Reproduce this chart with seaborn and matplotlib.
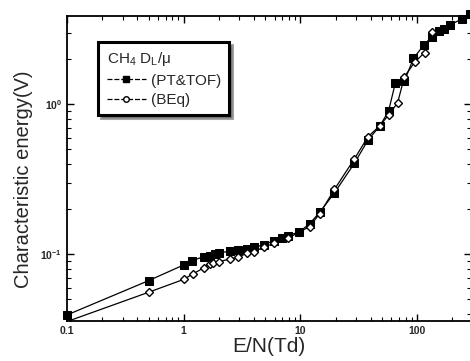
import matplotlib
matplotlib.use("Agg")
import matplotlib.pyplot as plt
import matplotlib.ticker as mticker
from matplotlib.lines import Line2D
import seaborn as sns
import pandas as pd

# PT&TOF (filled squares)
pt_x = [0.1, 0.5, 1.0, 1.18, 1.48, 1.67, 1.84, 2.0, 2.5, 2.9, 3.5, 4.0, 4.9, 5.9,
        6.95, 7.8, 9.8, 12, 14.6, 19.6, 29, 38, 48, 57, 65, 78, 93, 114, 134, 153,
        169, 193, 243, 282]
pt_y = [0.0394, 0.0667, 0.0849, 0.0906, 0.0964, 0.098, 0.100, 0.102, 0.105, 0.107,
        0.109, 0.111, 0.116, 0.123, 0.128, 0.133, 0.141, 0.160, 0.190, 0.257, 0.404,
        0.578, 0.717, 0.902, 1.38, 1.43, 2.02, 2.48, 2.82, 3.1, 3.2, 3.4, 3.7, 4.0]

# BEq (open diamonds)
be_x = [0.1, 0.5, 1.0, 1.2, 1.5, 1.67, 1.8, 2.0, 2.5, 2.9, 3.5, 4.0, 4.9, 5.9, 7.8,
        12, 14.6, 19.6, 29, 38, 48, 57, 68, 78, 96, 116, 135]
be_y = [0.0356, 0.0558, 0.068, 0.074, 0.0815, 0.0862, 0.088, 0.0893, 0.093, 0.0955,
        0.1016, 0.104, 0.112, 0.118, 0.128, 0.153, 0.186, 0.271, 0.432, 0.608, 0.72,
        0.849, 1.02, 1.53, 1.92, 2.21, 3.03]

xticks = [0.1, 1, 10, 100]
xtick_labels = ["0.1", "1", "10", "100"]

sns.set_theme(style="ticks")
plt.rcParams["font.family"] = ["Liberation Sans", "DejaVu Sans"]
plt.rcParams["mathtext.fontset"] = "custom"
plt.rcParams["mathtext.rm"] = "Liberation Sans"
plt.rcParams["mathtext.it"] = "Liberation Sans:italic"
plt.rcParams["mathtext.bf"] = "Liberation Sans:bold"

fig = plt.figure(figsize=(4.70, 3.61), dpi=100)
ax = fig.add_axes([0.1426, 0.1108, 0.8596, 0.845])

df_pt = pd.DataFrame({"x": pt_x, "y": pt_y})
df_be = pd.DataFrame({"x": be_x, "y": be_y})

sns.lineplot(data=df_pt, x="x", y="y", ax=ax, sort=False, estimator=None,
             color="black", lw=0.9, marker="s", markersize=5.5,
             markerfacecolor="black", markeredgecolor="black", clip_on=False)
sns.lineplot(data=df_be, x="x", y="y", ax=ax, sort=False, estimator=None,
             color="black", lw=0.9, marker="D", markersize=4.5,
             markerfacecolor="white", markeredgecolor="black", markeredgewidth=1.0,
             clip_on=True)

ax.set_xscale("log")
ax.set_yscale("log")
ax.set_xlim(0.1, 290)
ax.set_ylim(0.0359, 3.88)

ax.set_xticks(xticks)
ax.set_xticklabels(xtick_labels, fontsize=7.5, fontweight="bold")
ax.xaxis.set_minor_locator(mticker.LogLocator(base=10, subs=range(2, 10)))
ax.yaxis.set_minor_locator(mticker.LogLocator(base=10, subs=range(2, 10)))
ax.xaxis.set_minor_formatter(mticker.NullFormatter())
ax.yaxis.set_minor_formatter(mticker.NullFormatter())
ax.yaxis.set_major_locator(mticker.FixedLocator([0.1, 1.0]))
ax.set_yticklabels([r"$\mathbf{10^{-1}}$", r"$\mathbf{10^{0}}$"], fontsize=7.5)

ax.tick_params(which="both", direction="in", top=True, right=True, color="black")
ax.tick_params(which="major", length=5, width=1.0)
ax.tick_params(which="minor", length=3, width=0.8)
for s in ax.spines.values():
    s.set_linewidth(1.3)
    s.set_color("black")

ax.set_xlabel("E/N(Td)", fontsize=15, labelpad=1)
ax.set_ylabel("Characteristic energy(V)", fontsize=14.5)
ax.yaxis.set_label_coords(-0.085, 0.465)

handles = [
    Line2D([], [], color="black", lw=0.9, ls=(0, (4, 1.5)), marker="s", markersize=5,
           markerfacecolor="black"),
    Line2D([], [], color="black", lw=0.9, ls=(0, (4, 1.5)), marker="o", markersize=4,
           markerfacecolor="white"),
]
leg = ax.legend(handles, ["(PT&TOF)", "(BEq)"], title="CH$_4$ D$_\\mathrm{L}$/μ",
                loc="upper left", bbox_to_anchor=(0.077, 0.915), borderaxespad=0,
                fontsize=11, title_fontsize=11, frameon=True, fancybox=False,
                shadow=True, edgecolor="black", handlelength=2.6, handletextpad=0.3,
                borderpad=0.55, labelspacing=0.35)
leg.get_frame().set_linewidth(2.2)
leg._legend_box.align = "left"

fig.savefig("out.png", dpi=100)
